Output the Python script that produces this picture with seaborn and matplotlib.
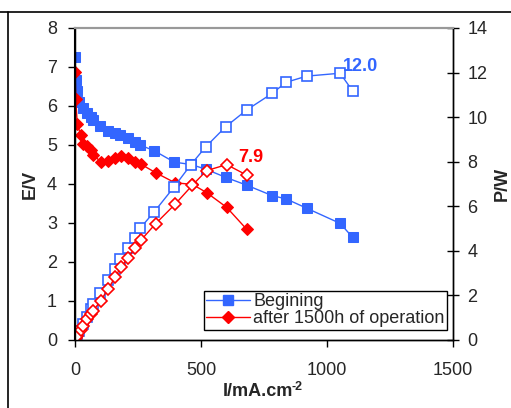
import matplotlib
matplotlib.use('Agg')
import matplotlib.pyplot as plt
from matplotlib.lines import Line2D
import seaborn as sns
import pandas as pd

# ── data ──────────────────────────────────────
i_begin = [0, 3, 7, 17, 30, 46, 62, 73, 99, 132, 159, 179, 212, 238, 258,
           315, 394, 460, 519, 598, 681, 783, 837, 919, 1052, 1102]
e_begin = [7.25, 6.67, 6.39, 6.11, 5.94, 5.81, 5.73, 5.64, 5.49, 5.36, 5.30,
           5.25, 5.17, 5.08, 5.00, 4.85, 4.56, 4.50, 4.38, 4.17, 3.97, 3.70,
           3.62, 3.38, 2.99, 2.63]
p_begin = [0.0, 0.08, 0.18, 0.40, 0.70, 1.05, 1.40, 1.60, 2.10, 2.69, 3.17,
           3.63, 4.11, 4.56, 5.01, 5.76, 6.88, 7.87, 8.67, 9.57, 10.32, 11.07,
           11.56, 11.84, 11.97, 11.17]

i_after = [0, 3, 9, 23, 33, 49, 62, 73, 102, 132, 159, 183, 212, 238, 261,
           320, 397, 466, 522, 602, 681]
e_after = [6.88, 6.17, 5.53, 5.26, 5.03, 4.98, 4.87, 4.74, 4.57, 4.59, 4.66,
           4.73, 4.66, 4.57, 4.51, 4.29, 4.03, 3.99, 3.78, 3.40, 2.84]
p_after = [0.0, 0.07, 0.19, 0.47, 0.65, 0.95, 1.16, 1.32, 1.77, 2.30, 2.82,
           3.28, 3.70, 4.15, 4.47, 5.22, 6.09, 6.95, 7.60, 7.87, 7.40]

label_begin = 'Begining'
label_after = 'after 1500h of operation'
blue = '#3366FF'
red = '#FF0000'

df_b = pd.DataFrame({'I': i_begin, 'E': e_begin, 'P': p_begin})
df_a = pd.DataFrame({'I': i_after, 'E': e_after, 'P': p_after})

sns.set_theme(style='white')
plt.rcParams['font.family'] = ['Liberation Sans', 'DejaVu Sans']
plt.rcParams['font.size'] = 13
plt.rcParams['xtick.labelsize'] = 13
plt.rcParams['ytick.labelsize'] = 13
plt.rcParams['axes.labelsize'] = 13

fig = plt.figure(figsize=(5.11, 4.08), dpi=100)
ax = fig.add_axes([0.1468, 0.1667, 0.7397, 0.7647])
ax2 = ax.twinx()

# E curves (filled markers, left axis)
sns.lineplot(data=df_b, x='I', y='E', ax=ax, sort=False, estimator=None,
             color=blue, lw=1, marker='s', markersize=7, markeredgecolor=blue,
             legend=False)
sns.lineplot(data=df_a, x='I', y='E', ax=ax, sort=False, estimator=None,
             color=red, lw=1, marker='D', markersize=6, markeredgecolor=red,
             legend=False)

# P curves (open markers, right axis)
sns.lineplot(data=df_b, x='I', y='P', ax=ax2, sort=False, estimator=None,
             color=blue, lw=1, marker='s', markersize=7, markerfacecolor='white',
             markeredgecolor=blue, markeredgewidth=1.2, legend=False)
sns.lineplot(data=df_a, x='I', y='P', ax=ax2, sort=False, estimator=None,
             color=red, lw=1, marker='D', markersize=6, markerfacecolor='white',
             markeredgecolor=red, markeredgewidth=1.2, legend=False)

ax.set_xlim(0, 1500)
ax.set_ylim(0, 8)
ax2.set_ylim(0, 14)
ax.set_xticks([0, 500, 1000, 1500])
ax.set_yticks(range(0, 9))
ax2.set_yticks(range(0, 15, 2))

ax.set_xlabel('I/mA.cm', fontweight='bold', labelpad=3)
ax.xaxis.label.set_x(0.485)
ax.annotate('-2', xy=(1, 1), xycoords=ax.xaxis.label, xytext=(-1.5, 1.5),
            textcoords='offset points', ha='left', va='top',
            fontsize=9, fontweight='bold')
ax.set_ylabel('E/V', fontweight='bold', labelpad=5.5)
ax2.set_ylabel('P/W', fontweight='bold', labelpad=4)

for a in (ax, ax2):
    a.grid(False)
    for s in a.spines.values():
        s.set_color('black')
        s.set_linewidth(1)
    a.spines['top'].set_color('#999999')
    a.spines['top'].set_linewidth(1.5)
ax.spines['left'].set_linewidth(1.5)
ax.tick_params(axis='x', direction='out', length=5, width=1, color='black',
               bottom=True, pad=11)
ax.tick_params(axis='y', direction='out', length=5, width=1, color='black',
               left=True, pad=8)
ax2.tick_params(axis='y', direction='inout', length=9, width=1, color='black',
                right=True, pad=6)
ax.patch.set_alpha(0)

ax2.annotate('12.0', xy=(1052, 11.97), xytext=(2, 1.5), textcoords='offset points',
             color=blue, fontweight='bold', fontsize=13, ha='left', va='baseline')
ax2.annotate('7.9', xy=(602, 7.87), xytext=(8, 2), textcoords='offset points',
             color=red, fontweight='bold', fontsize=13, ha='left', va='baseline')

handles = [Line2D([], [], color=blue, lw=1, marker='s', markersize=7),
           Line2D([], [], color=red, lw=1, marker='D', markersize=6)]
leg = ax2.legend(handles, [label_begin, label_after], loc='lower right',
                 bbox_to_anchor=(0.985, 0.032), frameon=True, fancybox=False,
                 framealpha=1, edgecolor='black', borderpad=0.15,
                 labelspacing=0.0, handlelength=2.4, handletextpad=0.2,
                 borderaxespad=0.0, fontsize=13)
leg.get_frame().set_linewidth(1)

# chart-area border (partly visible in the reference)
fig.add_artist(Line2D([0, 1], [1 - 12 / 408, 1 - 12 / 408], color='black', lw=1.2,
                      transform=fig.transFigure))
fig.add_artist(Line2D([8 / 511, 8 / 511], [0, 1 - 12 / 408], color='black', lw=1.2,
                      transform=fig.transFigure))

fig.savefig('out.png', dpi=100)
